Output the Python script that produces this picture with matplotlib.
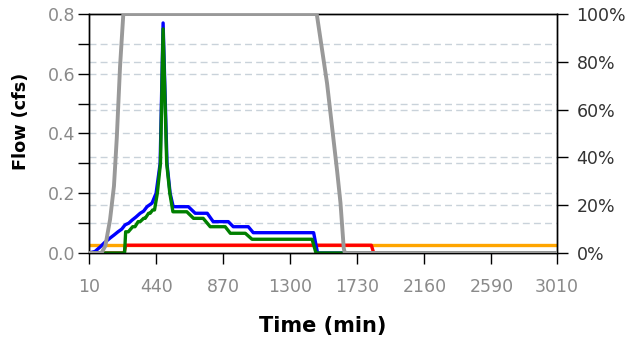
import matplotlib
matplotlib.use("Agg")
import matplotlib.pyplot as plt
from matplotlib.ticker import FixedLocator, FuncFormatter

plt.rcParams['font.family'] = ['DejaVu Sans']

# Flow series (time in minutes, flow in cfs)
blue_t = [10, 48, 81, 110, 145, 170, 196, 220, 241, 265, 286, 310, 338, 360, 382, 414,
          440, 466, 485, 510, 530, 550, 647, 691, 768, 806, 903, 935, 1031, 1063, 1450, 1475, 3010]
blue_v = [0.0, 0.005, 0.02, 0.035, 0.05, 0.06, 0.071, 0.08, 0.094, 0.10, 0.11, 0.12, 0.133, 0.14,
          0.155, 0.167, 0.2, 0.3, 0.77, 0.3, 0.2, 0.155, 0.155, 0.133, 0.133, 0.105, 0.105, 0.088,
          0.088, 0.068, 0.068, 0.0, 0.0]

green_t = [10, 238, 245, 262, 290, 305, 325, 338, 360, 370, 392, 402, 418, 430,
           448, 468, 485, 508, 528, 548, 637, 680, 742, 787, 883, 916, 1012, 1055, 1440, 1465, 3010]
green_v = [0.0, 0.0, 0.071, 0.071, 0.088, 0.088, 0.105, 0.105, 0.116, 0.116, 0.133, 0.133, 0.144, 0.144,
           0.2, 0.3, 0.75, 0.3, 0.2, 0.138, 0.138, 0.116, 0.116, 0.088, 0.088, 0.066, 0.066, 0.046,
           0.046, 0.0, 0.0]

red_t = [10, 235, 245, 1820, 1835, 3010]
red_v = [0.0, 0.0, 0.026, 0.026, 0.0, 0.0]

orange_t = [10, 3010]
orange_v = [0.026, 0.026]

# Percentage series on the secondary axis
gray_t = [10, 90, 115, 145, 170, 188, 209, 230, 1470, 1536, 1601, 1622, 1643, 1650, 3010]
gray_v = [0, 0, 3, 14, 28, 48, 78, 100, 100, 71, 34, 21, 2, 0, 0]

x_ticks = [10, 440, 870, 1300, 1730, 2160, 2590, 3010]
left_major = [0.0, 0.2, 0.4, 0.6, 0.8]
left_minor = [0.1, 0.3, 0.5, 0.7]
right_ticks = [0, 20, 40, 60, 80, 100]

W, H = 632, 345
fig = plt.figure(figsize=(W / 100, H / 100), dpi=100)
ax = fig.add_axes([89 / W, 1 - 253 / H, (557 - 89) / W, (253 - 14) / H])
ax2 = ax.twinx()

grid_kw = dict(color='#c9d2da', lw=1.0, ls=(0, (5, 3)), zorder=0)
for v in left_major[1:-1] + left_minor:
    ax.axhline(v, **grid_kw)
for p in right_ticks[1:-1]:
    ax.axhline(p / 100 * 0.8, **grid_kw)

lw = 2.4
ax.plot(orange_t, orange_v, color='#ffa500', lw=lw, zorder=2, solid_joinstyle='round')
ax.plot(red_t, red_v, color='#ff0000', lw=lw, zorder=3, solid_joinstyle='round')
ax.plot(blue_t, blue_v, color='#0000ff', lw=lw, zorder=4, solid_joinstyle='round')
ax.plot(green_t, green_v, color='#007f00', lw=lw, zorder=5, solid_joinstyle='round')
ax2.plot(gray_t, gray_v, color='#999999', lw=2.8, zorder=6, solid_joinstyle='round')

ax.set_xlim(10, 3010)
ax.set_ylim(0, 0.8)
ax2.set_ylim(0, 100)

ax.xaxis.set_major_locator(FixedLocator(x_ticks))
ax.yaxis.set_major_locator(FixedLocator(left_major))
ax.yaxis.set_minor_locator(FixedLocator(left_minor))
ax.yaxis.set_major_formatter(FuncFormatter(lambda v, p: f"{v:.1f}"))
ax2.yaxis.set_major_locator(FixedLocator(right_ticks))
ax2.yaxis.set_major_formatter(FuncFormatter(lambda v, p: f"{int(v)}%"))

fs = 12.5
ax.tick_params(axis='y', which='both', direction='out', length=8, width=1.0,
               labelsize=fs, labelcolor='#8a8a8a', pad=2)
ax.tick_params(axis='x', direction='out', length=8, width=1.0,
               labelsize=fs, labelcolor='#8a8a8a', pad=10)
ax2.tick_params(axis='y', direction='out', length=8, width=1.0,
                labelsize=fs, labelcolor='#333333', pad=6)

for a in (ax, ax2):
    for s in a.spines.values():
        s.set_color('black')
        s.set_linewidth(1.0)

ax.set_xlabel('Time (min)', fontsize=15, fontweight='bold')
ax.set_ylabel('Flow (cfs)', fontsize=12.7, fontweight='bold')
ax.xaxis.set_label_coords(0.5, -0.265)
ax.yaxis.set_label_coords(-0.127, 0.55)

fig.savefig('out.png', dpi=100)
